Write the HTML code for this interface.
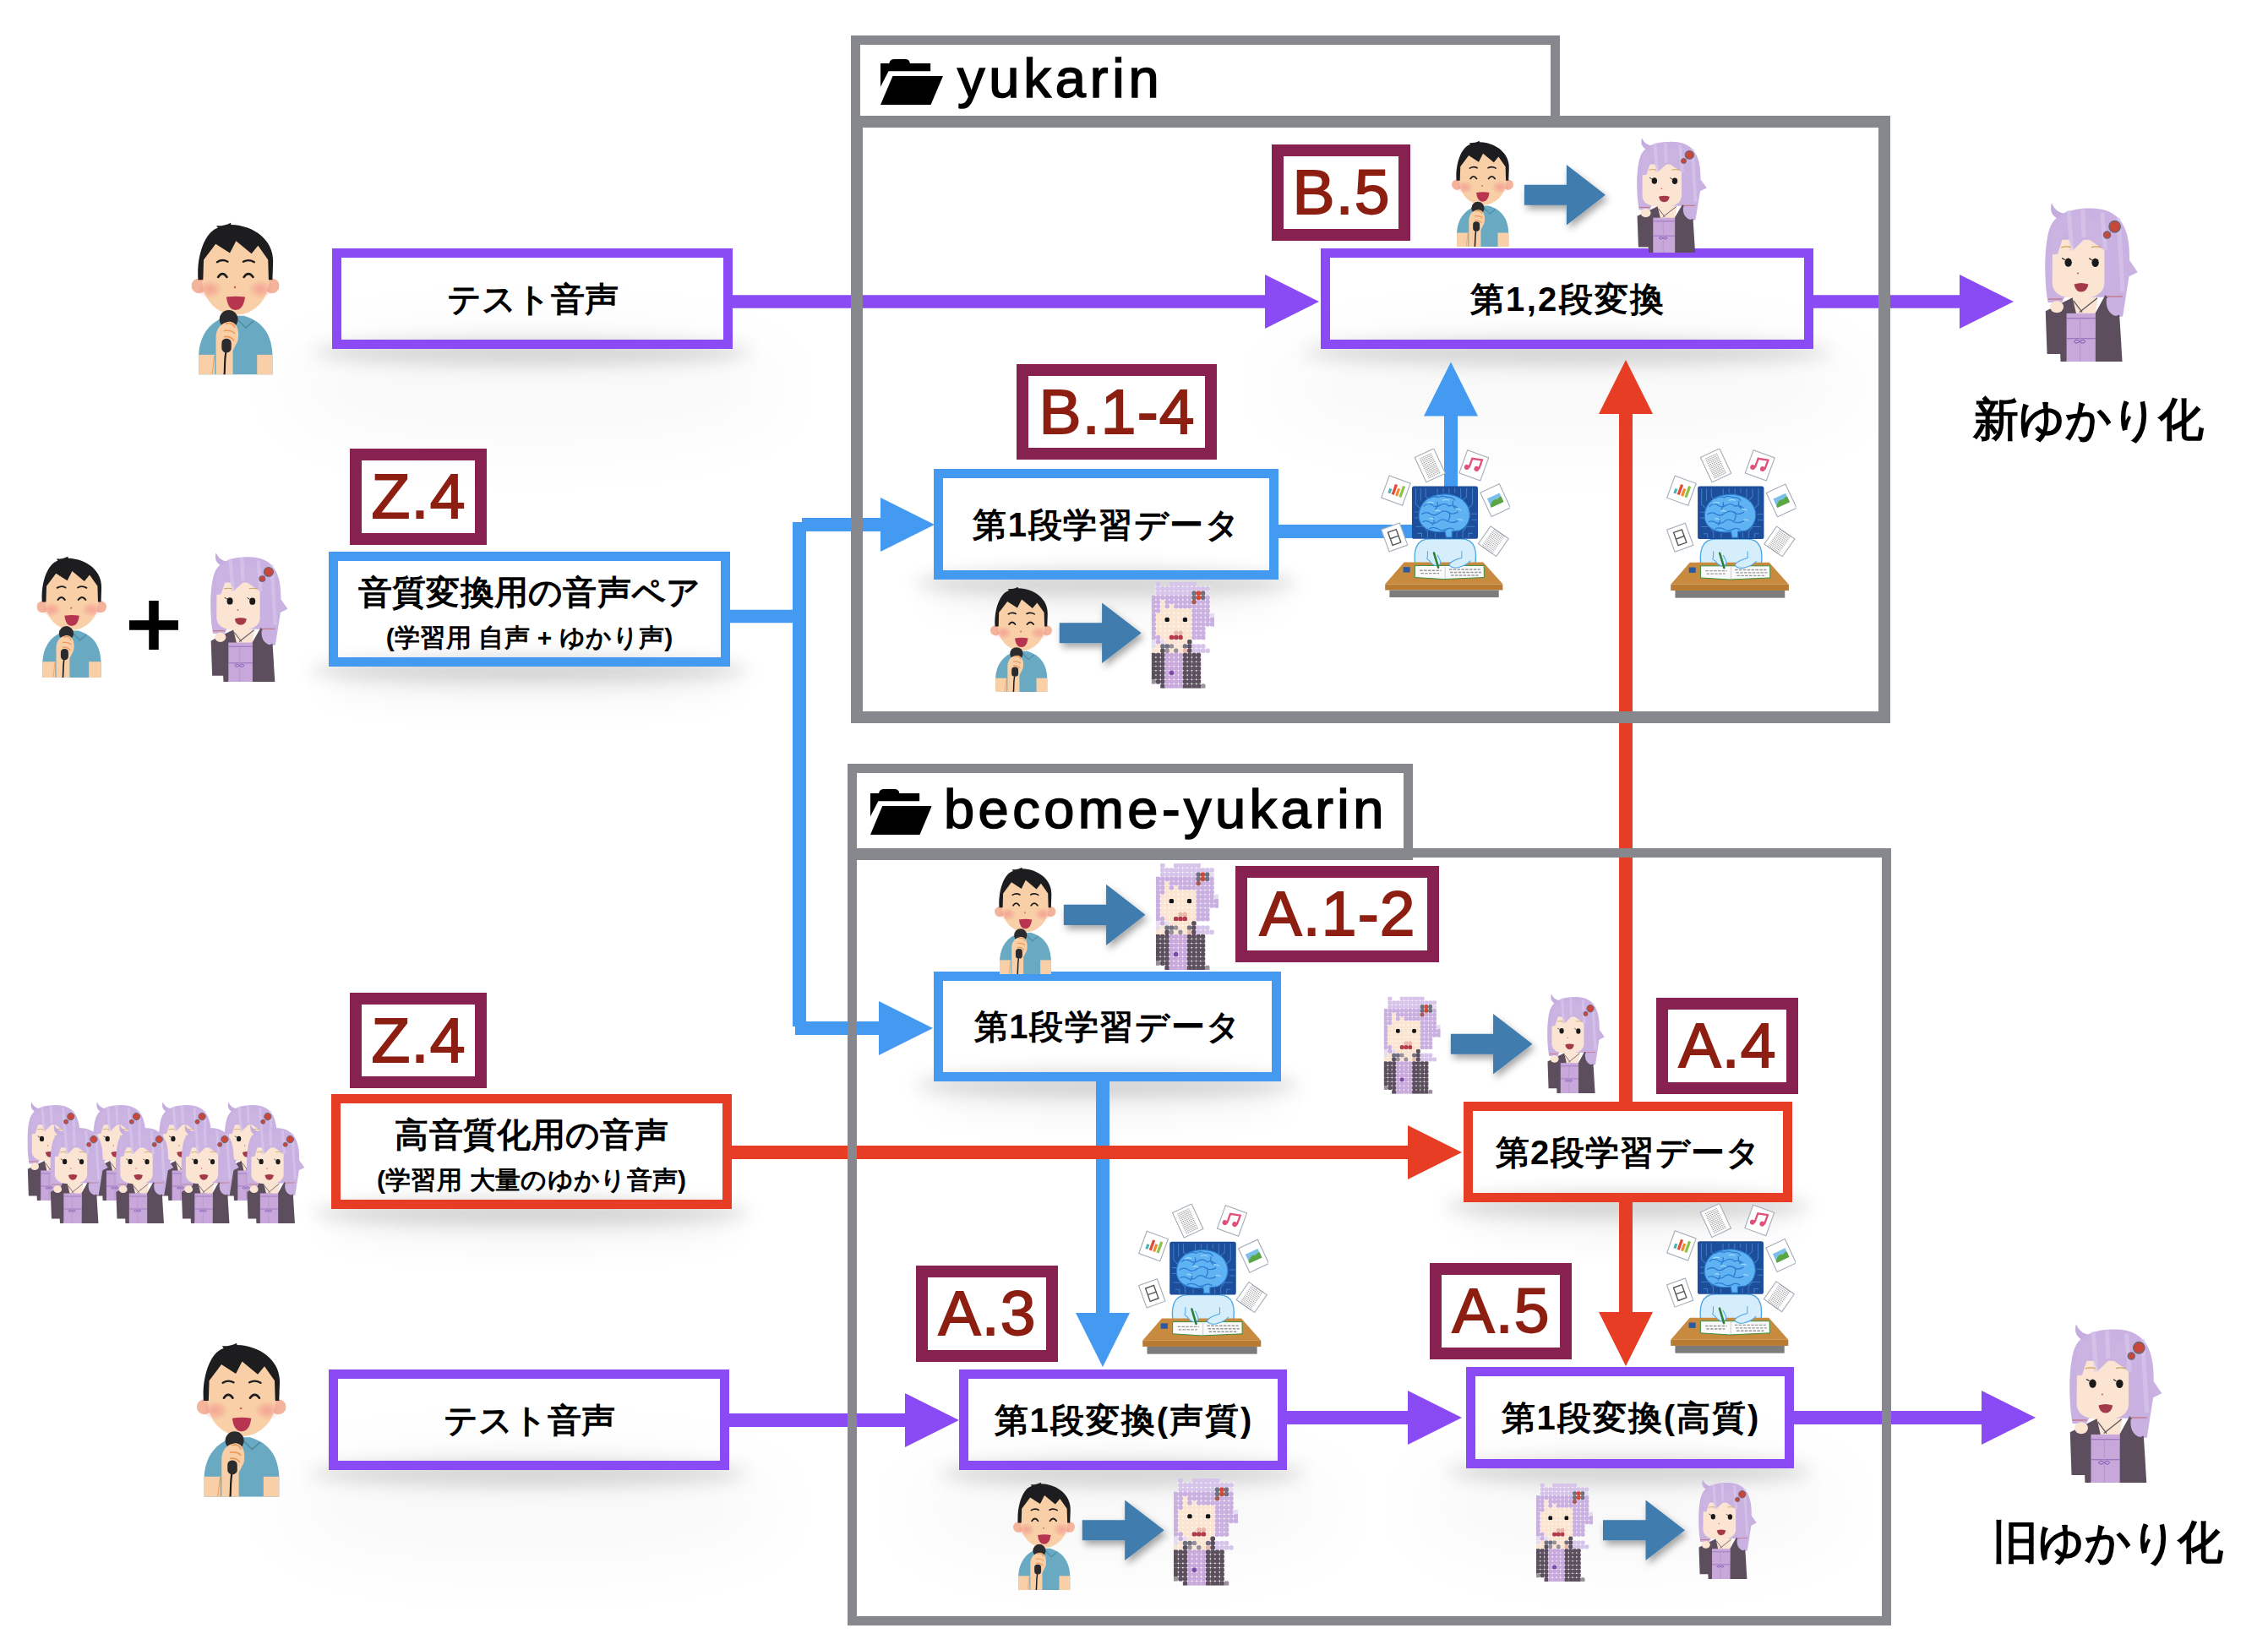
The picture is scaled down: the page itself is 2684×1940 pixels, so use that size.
<!DOCTYPE html>
<html><head><meta charset="utf-8"><title>yukarin</title>
<style>
html,body{margin:0;padding:0;background:#fff;}
body{width:2684px;height:1940px;position:relative;overflow:hidden;font-family:"Liberation Sans",sans-serif;}
.abs{position:absolute;box-sizing:border-box;}
.gbox{position:absolute;box-sizing:border-box;border:solid #87888d;}
.box{position:absolute;box-sizing:border-box;border:11px solid;display:flex;flex-direction:column;align-items:center;justify-content:center;color:#000;font-weight:bold;font-size:40px;line-height:1.15;white-space:nowrap;}
.box small{font-size:30px;line-height:1;display:block;margin-top:16px;margin-bottom:-6px;}
.shadow{position:absolute;border-radius:50%;background:rgba(0,0,0,.14);filter:blur(10px);}
.shadow2{position:absolute;border-radius:50%;background:rgba(0,0,0,.026);filter:blur(40px);}
.shadow3{position:absolute;border-radius:50%;background:rgba(0,0,0,.03);filter:blur(16px);}
.lab{position:absolute;box-sizing:border-box;border:14px solid #87214f;color:#8c1f12;font-size:75px;font-weight:normal;display:flex;align-items:center;justify-content:center;letter-spacing:1.2px;-webkit-text-stroke:1.8px #8c1f12;padding-bottom:2px;padding-left:1.2px;}
.title{position:absolute;font-size:65px;font-weight:normal;line-height:1;color:#000;white-space:nowrap;letter-spacing:3.6px;-webkit-text-stroke:1.6px #000;}
.big{position:absolute;font-size:54px;font-weight:bold;line-height:1;color:#000;white-space:nowrap;}
svg{position:absolute;left:0;top:0;}
</style></head><body>

<div class="shadow" style="left:371px;top:401px;width:518px;height:32px"></div>
<div class="shadow2" style="left:333px;top:393px;width:594px;height:130px"></div>
<div class="shadow" style="left:1541px;top:401px;width:627px;height:32px"></div>
<div class="shadow2" style="left:1503px;top:393px;width:703px;height:130px"></div>
<div class="shadow" style="left:367px;top:1728px;width:518px;height:32px"></div>
<div class="shadow2" style="left:329px;top:1720px;width:594px;height:130px"></div>
<div class="shadow" style="left:1113px;top:1728px;width:432px;height:32px"></div>
<div class="shadow2" style="left:1075px;top:1720px;width:508px;height:130px"></div>
<div class="shadow" style="left:1713px;top:1726px;width:432px;height:32px"></div>
<div class="shadow2" style="left:1675px;top:1718px;width:508px;height:130px"></div>
<div class="shadow" style="left:367px;top:777px;width:519px;height:32px"></div>
<div class="shadow3" style="left:379px;top:783px;width:495px;height:56px"></div>
<div class="shadow" style="left:1083px;top:674px;width:452px;height:32px"></div>
<div class="shadow3" style="left:1095px;top:680px;width:428px;height:56px"></div>
<div class="shadow" style="left:1083px;top:1268px;width:455px;height:32px"></div>
<div class="shadow3" style="left:1095px;top:1274px;width:431px;height:56px"></div>
<div class="shadow" style="left:370px;top:1419px;width:518px;height:32px"></div>
<div class="shadow3" style="left:382px;top:1425px;width:494px;height:56px"></div>
<div class="shadow" style="left:1710px;top:1411px;width:433px;height:32px"></div>
<div class="shadow3" style="left:1722px;top:1417px;width:409px;height:56px"></div>
<svg width="2684" height="1940" viewBox="0 0 2684 1940"><rect x="860" y="349.25" width="640" height="15.5" fill="#8a4af4"/><path d="M1561,357 L1497,325.0 L1497,389.0 Z" fill="#8a4af4"/><rect x="2140" y="349.25" width="182" height="15.5" fill="#8a4af4"/><path d="M2383,357 L2319,325.0 L2319,389.0 Z" fill="#8a4af4"/><rect x="858" y="1673.0" width="216" height="16" fill="#8a4af4"/><path d="M1135,1681 L1071,1649.0 L1071,1713.0 Z" fill="#8a4af4"/><rect x="1518" y="1670.0" width="150" height="16" fill="#8a4af4"/><path d="M1730,1678 L1666,1646.0 L1666,1710.0 Z" fill="#8a4af4"/><rect x="2118" y="1670.0" width="230" height="16" fill="#8a4af4"/><path d="M2409,1678 L2345,1646.0 L2345,1710.0 Z" fill="#8a4af4"/><rect x="860" y="721.75" width="90" height="15.5" fill="#4499f1"/><rect x="938.0" y="618" width="16" height="597" fill="#4499f1"/><rect x="949" y="613.0" width="101" height="16" fill="#4499f1"/><path d="M1106,621 L1042,589.0 L1042,653.0 Z" fill="#4499f1"/><rect x="941" y="1209.0" width="103" height="16" fill="#4499f1"/><path d="M1104,1217 L1040,1185.0 L1040,1249.0 Z" fill="#4499f1"/><rect x="1508" y="621.0" width="192" height="16" fill="#4499f1"/><rect x="1709.0" y="485" width="16" height="155" fill="#4499f1"/><path d="M1717,428.5 L1685.0,492.5 L1749.0,492.5 Z" fill="#4499f1"/><rect x="1297.0" y="1275" width="16" height="285" fill="#4499f1"/><path d="M1305,1618 L1273.0,1554 L1337.0,1554 Z" fill="#4499f1"/><rect x="860" y="1356.0" width="810" height="16" fill="#e63d24"/><path d="M1730,1364 L1666,1332.0 L1666,1396.0 Z" fill="#e63d24"/><rect x="1916.0" y="480" width="16" height="830" fill="#e63d24"/><path d="M1924,426 L1892.0,490 L1956.0,490 Z" fill="#e63d24"/><rect x="1916.0" y="1418" width="16" height="142" fill="#e63d24"/><path d="M1924,1617 L1892.0,1553 L1956.0,1553 Z" fill="#e63d24"/></svg>
<div class="gbox" style="left:1007px;top:42px;width:839px;height:109px;border-width:11px 11px 0 11px"></div>
<div class="gbox" style="left:1007px;top:137px;width:1230px;height:719px;border-width:14px"></div>
<div class="gbox" style="left:1003px;top:904px;width:669px;height:114px;border-width:11px 11px 0 11px"></div>
<div class="gbox" style="left:1003px;top:1004px;width:1235px;height:920px;border-width:11px"></div>
<div class="abs" style="left:1003px;top:1004px;width:669px;height:14px;background:#87888d"></div>
<svg width="2684" height="1940" viewBox="0 0 2684 1940">
<symbol id="folder" viewBox="238 225 419 308" preserveAspectRatio="none">
 <path d="M238,255 L296,255 Q300,226 332,226 L404,226 Q432,226 436,255 L573,255 L573,308 L292,308 L238,412 Z" fill="#000"/>
 <path d="M320,340 L657,340 L575,533 L238,533 Z" fill="#000"/>
</symbol><use href="#folder" x="1042.0" y="69.7" width="74.0" height="54.3" /><use href="#folder" x="1030.0" y="933.7" width="72.7" height="54.2" /></svg>
<div class="title" style="left:1133px;top:60px;letter-spacing:4.85px">yukarin</div>
<div class="title" style="left:1117px;top:925px;letter-spacing:4.45px">become-yukarin</div>
<div class="box" style="left:393px;top:294px;width:474px;height:119px;border-color:#8a4af4;letter-spacing:0px;padding-left:0px">テスト音声</div>
<div class="box" style="left:1563px;top:294px;width:583px;height:119px;border-color:#8a4af4;letter-spacing:2.3px;padding-left:2.3px">第1,2段変換</div>
<div class="box" style="left:389px;top:1621px;width:474px;height:119px;border-color:#8a4af4;letter-spacing:0px;padding-left:0px">テスト音声</div>
<div class="box" style="left:1135px;top:1621px;width:388px;height:119px;border-color:#8a4af4;letter-spacing:2px;padding-left:2px">第1段変換(声質)</div>
<div class="box" style="left:1735px;top:1618px;width:388px;height:120px;border-color:#8a4af4;letter-spacing:2px;padding-left:2px">第1段変換(高質)</div>
<div class="box" style="left:389px;top:653px;width:475px;height:136px;border-color:#4499f1;letter-spacing:0.3px;padding-left:0.3px">音質変換用の音声ペア<small>(学習用 自声 + ゆかり声)</small></div>
<div class="box" style="left:1105px;top:555px;width:408px;height:131px;border-color:#4499f1;letter-spacing:1.6px;padding-left:1.6px">第1段学習データ</div>
<div class="box" style="left:1105px;top:1150px;width:411px;height:130px;border-color:#4499f1;letter-spacing:1.6px;padding-left:1.6px">第1段学習データ</div>
<div class="box" style="left:392px;top:1295px;width:474px;height:136px;border-color:#e63d24;letter-spacing:0.3px;padding-left:0.3px">高音質化用の音声<small>(学習用 大量のゆかり音声)</small></div>
<div class="box" style="left:1732px;top:1304px;width:389px;height:119px;border-color:#e63d24;letter-spacing:1.3px;padding-left:1.3px">第2段学習データ</div>
<div class="lab" style="left:1505px;top:171px;width:164px;height:114px">B.5</div>
<div class="lab" style="left:1203px;top:431px;width:237px;height:113px">B.1-4</div>
<div class="lab" style="left:414px;top:531px;width:162px;height:114px">Z.4</div>
<div class="lab" style="left:414px;top:1175px;width:162px;height:113px">Z.4</div>
<div class="lab" style="left:1462px;top:1025px;width:241px;height:114px">A.1-2</div>
<div class="lab" style="left:1960px;top:1181px;width:168px;height:114px">A.4</div>
<div class="lab" style="left:1084px;top:1498px;width:168px;height:114px">A.3</div>
<div class="lab" style="left:1692px;top:1495px;width:168px;height:114px">A.5</div>
<div class="big" style="left:2335px;top:469px">新ゆかり化</div>
<div class="big" style="left:2358px;top:1798px">旧ゆかり化</div>
<svg width="2684" height="1940" viewBox="0 0 2684 1940"><defs><filter id="ds" x="-20%" y="-20%" width="150%" height="160%"><feDropShadow dx="3" dy="5" stdDeviation="4" flood-color="#000" flood-opacity=".35"/></filter>
<symbol id="man" viewBox="55 60 880 1530" preserveAspectRatio="none">
 <circle cx="130" cy="700" r="75" fill="#f3b49b"/>
 <circle cx="860" cy="700" r="75" fill="#f3b49b"/>
 <ellipse cx="497" cy="640" rx="335" ry="352" fill="#f8cfa6"/>
 <path d="M168,680 L172,430 L300,268 L500,238 L725,288 L828,430 L832,680 Z" fill="#f8cfa6"/>
 <path d="M122,640 C105,380 200,150 320,120 L305,98 C360,100 400,92 448,68 L452,88 C690,95 880,250 872,460 L866,640 L828,640 L822,440 L722,298 L656,378 L502,250 L440,372 L298,280 L178,440 L172,640 Z" fill="#1d1d1f"/>
 <radialGradient id="blush"><stop offset="0" stop-color="#f28a8a" stop-opacity=".6"/><stop offset=".5" stop-color="#f28a8a" stop-opacity=".35"/><stop offset="1" stop-color="#f08c8c" stop-opacity="0"/></radialGradient>
 <ellipse cx="240" cy="735" rx="125" ry="95" fill="url(#blush)"/>
 <ellipse cx="748" cy="735" rx="125" ry="95" fill="url(#blush)"/>
 <path d="M312,462 Q365,428 418,458 M574,458 Q628,428 684,462" stroke="#1d1d1f" stroke-width="20" fill="none" stroke-linecap="round"/>
 <path d="M322,612 Q366,548 410,612 M580,612 Q626,548 672,612" stroke="#1d1d1f" stroke-width="22" fill="none" stroke-linecap="round"/>
 <circle cx="490" cy="715" r="11" fill="#cf5d6c"/>
 <path d="M405,812 Q500,798 592,812 Q575,942 497,942 Q420,942 405,812 Z" fill="#b8354f"/>
 <path d="M128,1392 C138,1200 230,1060 420,1000 L580,1000 C780,1060 858,1200 866,1392 L866,1590 L128,1590 Z" fill="#69a9c2"/>
 <rect x="128" y="1390" width="160" height="200" fill="#f8cfa6"/>
 <rect x="712" y="1390" width="154" height="200" fill="#f8cfa6"/>
 <path d="M520,1040 L600,1120 L680,1050" stroke="#4d8ea5" stroke-width="14" fill="none"/>
 <circle cx="428" cy="1035" r="92" fill="#2b2b2d"/>
 <path d="M300,1590 L300,1220 C300,1120 360,1070 430,1060 C510,1060 540,1150 520,1250 L470,1350 L470,1590 Z" fill="#f8cfa6"/>
 <path d="M395,1080 Q470,1060 490,1120 M380,1150 Q460,1140 490,1180 M380,1210 Q450,1200 480,1250" stroke="#f09a5a" stroke-width="14" fill="none"/>
 <rect x="358" y="1228" width="96" height="140" rx="44" fill="#2b2b2d"/>
 <path d="M400,1365 C385,1450 392,1520 385,1590" stroke="#1d1d1f" stroke-width="18" fill="none"/>
 <path d="M285,1400 L262,1585" stroke="#f09a5a" stroke-width="8" fill="none"/>
</symbol>
<symbol id="girl" viewBox="80 80 860 1465" preserveAspectRatio="none">
 <path d="M142,82 C120,160 150,215 230,240 L290,185 C220,180 170,150 142,82 Z" fill="#c4acdd"/>
 <path d="M96,920 C70,700 80,420 130,300 C190,170 330,130 505,130 C790,130 868,330 862,610 L938,720 L858,760 L835,905 L800,1130 L655,1130 L640,950 L262,950 L238,1000 L108,1000 Z" fill="#c9b1e1"/>
 <path d="M150,420 L630,420 L630,820 C625,925 530,962 390,962 C250,962 152,925 148,820 Z" fill="#fbe4d2"/>
 <path d="M150,330 C190,250 280,200 400,195 L640,250 L640,525 L462,400 L345,512 L268,338 L198,552 L140,560 Z" fill="#cbb3e2"/>
 <path d="M300,150 L330,520 M430,140 L440,400 M610,170 L640,520 M760,220 L800,900" stroke="#d9c9ec" stroke-width="40" opacity=".6" fill="none"/>
 <path d="M230,492 Q275,478 320,490 M510,490 Q555,478 600,492" stroke="#c9a45e" stroke-width="10" fill="none"/>
 <ellipse cx="296" cy="630" rx="33" ry="40" fill="#1a1a1a"/>
 <ellipse cx="546" cy="632" rx="33" ry="40" fill="#1a1a1a"/>
 <path d="M262,605 L240,592 M512,607 L492,594" stroke="#1a1a1a" stroke-width="9" stroke-linecap="round"/>
 <circle cx="385" cy="730" r="8" fill="#c45466"/>
 <path d="M350,832 Q415,808 482,832 Q470,902 415,902 Q362,902 350,832 Z" fill="#a43a49"/>
 <circle cx="726" cy="300" r="52" fill="#c8473b" stroke="#6e6472" stroke-width="12"/>
 <circle cx="655" cy="377" r="32" fill="#c8473b" stroke="#6e6472" stroke-width="10"/>
 <path d="M108,968 L240,968 M650,945 L800,945" stroke="#c06060" stroke-width="8"/>
 <path d="M325,958 L570,950 L548,1105 L300,1105 Z" fill="#fbe4d2"/>
 <path d="M86,1080 L245,1000 L335,955 L370,1105 L280,1545 L225,1545 L222,1475 L100,1475 Z" fill="#5c4e5d"/>
 <path d="M640,930 L770,1120 L796,1545 L540,1545 L545,1100 Z" fill="#5c4e5d"/>
 <rect x="280" y="1100" width="268" height="445" fill="#c8a7da"/>
 <path d="M280,1145 L548,1145 M280,1332 L548,1332" stroke="#8e68b8" stroke-width="8" fill="none"/><path d="M405,1145 L405,1545" stroke="#b594cc" stroke-width="8" fill="none"/><path d="M350,1360 q25,-30 50,0 q-25,30 -50,0 M405,1360 q25,-30 50,0 q-25,30 -50,0" stroke="#6a48a8" stroke-width="7" fill="none"/>
 <path d="M345,985 L425,1090 M565,958 L400,1090" stroke="#5a5560" stroke-width="10"/>
 <ellipse cx="190" cy="1040" rx="62" ry="55" fill="#fbe4d2"/>
 <path d="M650,960 C640,1040 670,1110 740,1125 L790,1100 L800,950 Z" fill="#c9b1e1"/>
</symbol>
<symbol id="darr" viewBox="0 0 96 72" preserveAspectRatio="none">
 <path d="M0,24 L50,24 L50,0 L96,36 L50,72 L50,48 L0,48 Z" fill="#3f7bad"/>
</symbol>
<symbol id="brain" viewBox="60 50 1325 1530" preserveAspectRatio="none"><g transform="translate(215,480) rotate(20)"><rect x="-115.0" y="-120.0" width="230" height="240" fill="#fff" stroke="#a6b0bb" stroke-width="10"/><rect x="-70" y="0" width="28" height="50" fill="#4bb3b3"/><rect x="-30" y="-60" width="28" height="110" fill="#e04a3a"/><rect x="10" y="-30" width="28" height="80" fill="#f08a30"/><rect x="50" y="-70" width="28" height="120" fill="#8bc34a"/></g><g transform="translate(565,222) rotate(-25)"><rect x="-107.5" y="-140.0" width="215" height="280" fill="#fff" stroke="#a6b0bb" stroke-width="10"/><path d="M-70,-105 L70,-105" stroke="#8a8a8a" stroke-width="7" stroke-dasharray="14 6"/><path d="M-70,-87 L70,-87" stroke="#8a8a8a" stroke-width="7" stroke-dasharray="14 6"/><path d="M-70,-69 L70,-69" stroke="#8a8a8a" stroke-width="7" stroke-dasharray="14 6"/><path d="M-70,-51 L70,-51" stroke="#8a8a8a" stroke-width="7" stroke-dasharray="14 6"/><path d="M-70,-33 L70,-33" stroke="#8a8a8a" stroke-width="7" stroke-dasharray="14 6"/><path d="M-70,-15 L70,-15" stroke="#8a8a8a" stroke-width="7" stroke-dasharray="14 6"/><path d="M-70,3 L70,3" stroke="#8a8a8a" stroke-width="7" stroke-dasharray="14 6"/><path d="M-70,21 L70,21" stroke="#8a8a8a" stroke-width="7" stroke-dasharray="14 6"/><path d="M-70,39 L70,39" stroke="#8a8a8a" stroke-width="7" stroke-dasharray="14 6"/><path d="M-70,57 L70,57" stroke="#8a8a8a" stroke-width="7" stroke-dasharray="14 6"/><path d="M-70,75 L70,75" stroke="#8a8a8a" stroke-width="7" stroke-dasharray="14 6"/><path d="M-70,93 L70,93" stroke="#8a8a8a" stroke-width="7" stroke-dasharray="14 6"/><path d="M-70,111 L70,111" stroke="#8a8a8a" stroke-width="7" stroke-dasharray="14 6"/></g><g transform="translate(1015,222) rotate(20)"><rect x="-115.0" y="-125.0" width="230" height="250" fill="#fff" stroke="#a6b0bb" stroke-width="10"/><path d="M-40,40 L-40,-60 L60,-80 L60,20" stroke="#e05078" stroke-width="20" fill="none"/><circle cx="-62" cy="42" r="26" fill="#e05078"/><circle cx="38" cy="24" r="26" fill="#e05078"/></g><g transform="translate(1235,580) rotate(-25)"><rect x="-107.5" y="-135.0" width="215" height="270" fill="#fff" stroke="#a6b0bb" stroke-width="10"/><rect x="-70" y="-50" width="140" height="100" fill="#7cc0ea"/><path d="M-70,30 Q-20,-30 20,0 Q50,-20 70,-10 L70,50 L-70,50 Z" fill="#5aa640"/></g><g transform="translate(200,960) rotate(-20)"><rect x="-100.0" y="-120.0" width="200" height="240" fill="#fff" stroke="#a6b0bb" stroke-width="10"/><rect x="-45" y="-70" width="90" height="140" fill="none" stroke="#555" stroke-width="12"/><path d="M-45,0 L45,0" stroke="#555" stroke-width="12"/></g><g transform="translate(1215,1000) rotate(35)"><rect x="-112.5" y="-110.0" width="225" height="220" fill="#fff" stroke="#a6b0bb" stroke-width="10"/><path d="M-70,-105 L70,-105" stroke="#8a8a8a" stroke-width="7" stroke-dasharray="14 6"/><path d="M-70,-87 L70,-87" stroke="#8a8a8a" stroke-width="7" stroke-dasharray="14 6"/><path d="M-70,-69 L70,-69" stroke="#8a8a8a" stroke-width="7" stroke-dasharray="14 6"/><path d="M-70,-51 L70,-51" stroke="#8a8a8a" stroke-width="7" stroke-dasharray="14 6"/><path d="M-70,-33 L70,-33" stroke="#8a8a8a" stroke-width="7" stroke-dasharray="14 6"/><path d="M-70,-15 L70,-15" stroke="#8a8a8a" stroke-width="7" stroke-dasharray="14 6"/><path d="M-70,3 L70,3" stroke="#8a8a8a" stroke-width="7" stroke-dasharray="14 6"/><path d="M-70,21 L70,21" stroke="#8a8a8a" stroke-width="7" stroke-dasharray="14 6"/><path d="M-70,39 L70,39" stroke="#8a8a8a" stroke-width="7" stroke-dasharray="14 6"/><path d="M-70,57 L70,57" stroke="#8a8a8a" stroke-width="7" stroke-dasharray="14 6"/><path d="M-70,75 L70,75" stroke="#8a8a8a" stroke-width="7" stroke-dasharray="14 6"/><path d="M-70,93 L70,93" stroke="#8a8a8a" stroke-width="7" stroke-dasharray="14 6"/><path d="M-70,111 L70,111" stroke="#8a8a8a" stroke-width="7" stroke-dasharray="14 6"/></g>
 <path d="M420,1285 C385,1100 420,975 565,975 L880,975 C1030,975 1055,1100 1022,1285 Z" fill="#d6eefb" stroke="#4ea8e8" stroke-width="12"/>
 <path d="M300,1215 L1110,1215 L1310,1440 L105,1440 Z" fill="#c88a3e"/>
 <rect x="105" y="1440" width="1205" height="62" fill="#b97a32"/>
 <rect x="150" y="1502" width="1120" height="75" fill="#7c7c7c"/>
 <path d="M410,1250 L1118,1250 L1120,1372 L705,1390 L410,1372 Z" fill="#fafafa" stroke="#2e8a3a" stroke-width="8"/><path d="M720,1260 L720,1385" stroke="#bbb" stroke-width="6"/><path d="M460,1300 L680,1300 M470,1330 L660,1330 M760,1290 L1080,1290 M770,1320 L1090,1320 M780,1350 L1060,1350" stroke="#999" stroke-width="12" stroke-dasharray="30 12"/>
 <rect x="290" y="1265" width="70" height="55" fill="#2a5aa0"/>
 <path d="M540,1100 L540,1160 Q520,1180 560,1200 Q600,1260 650,1250 Q690,1230 660,1180 L640,1140" fill="#d6eefb" stroke="#4ea8e8" stroke-width="9"/>
 <path d="M890,1100 L890,1170 Q780,1200 760,1240 Q780,1280 850,1270 Q940,1250 980,1200" fill="#d6eefb" stroke="#4ea8e8" stroke-width="9"/>
 <path d="M605,1120 L650,1270" stroke="#2e7d3a" stroke-width="22" stroke-linecap="round"/>
 <rect x="380" y="435" width="676" height="540" rx="22" fill="#1d4e9a"/>
 <path d="M420,460 L420,620 L470,670 M470,460 L470,580 M520,460 L520,540 L560,580 M640,460 L640,520 M700,460 L700,500 M760,460 L760,520 M820,460 L820,500 M880,460 L880,560 M940,460 L940,540 L900,580 M1000,460 L1000,620 L950,670 M410,760 L450,760 M410,700 L445,700 M1045,720 L990,720 M1045,780 L995,780 M420,850 L500,850 L540,900 L540,960 M440,920 L480,920 L480,960 M1020,850 L940,850 L900,900 L900,960 M1000,920 L960,920 L960,960 M620,960 L620,920 M840,960 L840,910" stroke="#3f7ccc" stroke-width="9" fill="none" stroke-linecap="round"/>
 <path d="M455,780 C430,650 520,540 650,525 C760,500 900,540 950,640 C1000,740 960,850 870,890 L790,900 L790,960 L730,960 L720,900 C600,920 480,880 455,780 Z" fill="#5fb3f2" stroke="#2c7bd0" stroke-width="10"/>
 <path d="M560,560 q40,-30 90,-10 q40,-25 90,0 q50,-10 80,30 M500,640 q40,-40 90,-10 q30,30 80,0 q50,-30 90,10 q40,-20 90,20 M480,720 q50,-30 90,0 q40,30 90,-10 q50,-40 100,0 q40,20 90,-10 M490,800 q40,-20 80,10 q50,20 90,-20 q40,-30 90,10 q50,20 100,-10 M560,870 q50,-20 100,10 q40,20 90,-10 q30,-10 60,10 M640,600 q10,40 -20,70 M800,590 q-10,50 30,80 M600,760 q20,40 -10,70 M760,700 q20,50 -10,90" stroke="#2c7bd0" stroke-width="11" fill="none" stroke-linecap="round"/>
 <path d="M540,610 q30,-20 60,-5 M700,580 q30,-15 60,0 M620,690 q30,-15 50,5 M830,670 q25,-10 50,10 M560,770 q25,-10 45,5 M850,780 q25,-10 45,5" stroke="#a8dcfb" stroke-width="10" fill="none" stroke-linecap="round"/>
</symbol><symbol id="pix" viewBox="0 0 14 24" preserveAspectRatio="none"><rect x="1" y="0" width="1.02" height="1.02" fill="#d7c4ea"/><rect x="4" y="0" width="1.02" height="1.02" fill="#d7c4ea"/><rect x="5" y="0" width="1.02" height="1.02" fill="#d7c4ea"/><rect x="6" y="0" width="1.02" height="1.02" fill="#d7c4ea"/><rect x="7" y="0" width="1.02" height="1.02" fill="#d7c4ea"/><rect x="8" y="0" width="1.02" height="1.02" fill="#d7c4ea"/><rect x="9" y="0" width="1.02" height="1.02" fill="#d7c4ea"/><rect x="1" y="1" width="1.02" height="1.02" fill="#d7c4ea"/><rect x="2" y="1" width="1.02" height="1.02" fill="#d7c4ea"/><rect x="3" y="1" width="1.02" height="1.02" fill="#d7c4ea"/><rect x="4" y="1" width="1.02" height="1.02" fill="#d7c4ea"/><rect x="5" y="1" width="1.02" height="1.02" fill="#d7c4ea"/><rect x="6" y="1" width="1.02" height="1.02" fill="#d7c4ea"/><rect x="7" y="1" width="1.02" height="1.02" fill="#d7c4ea"/><rect x="8" y="1" width="1.02" height="1.02" fill="#d7c4ea"/><rect x="9" y="1" width="1.02" height="1.02" fill="#d7c4ea"/><rect x="10" y="1" width="1.02" height="1.02" fill="#d7c4ea"/><rect x="11" y="1" width="1.02" height="1.02" fill="#d7c4ea"/><rect x="12" y="1" width="1.02" height="1.02" fill="#d7c4ea"/><rect x="1" y="2" width="1.02" height="1.02" fill="#d7c4ea"/><rect x="2" y="2" width="1.02" height="1.02" fill="#d7c4ea"/><rect x="3" y="2" width="1.02" height="1.02" fill="#d7c4ea"/><rect x="4" y="2" width="1.02" height="1.02" fill="#d7c4ea"/><rect x="5" y="2" width="1.02" height="1.02" fill="#d7c4ea"/><rect x="6" y="2" width="1.02" height="1.02" fill="#d7c4ea"/><rect x="7" y="2" width="1.02" height="1.02" fill="#d7c4ea"/><rect x="8" y="2" width="1.02" height="1.02" fill="#d7c4ea"/><rect x="9" y="2" width="1.02" height="1.02" fill="#707080"/><rect x="10" y="2" width="1.02" height="1.02" fill="#cf4a38"/><rect x="11" y="2" width="1.02" height="1.02" fill="#707080"/><rect x="12" y="2" width="1.02" height="1.02" fill="#e6dcf0"/><rect x="0" y="3" width="1.02" height="1.02" fill="#c9b0e0"/><rect x="1" y="3" width="1.02" height="1.02" fill="#c9b0e0"/><rect x="2" y="3" width="1.02" height="1.02" fill="#c9b0e0"/><rect x="3" y="3" width="1.02" height="1.02" fill="#c9b0e0"/><rect x="4" y="3" width="1.02" height="1.02" fill="#c9b0e0"/><rect x="5" y="3" width="1.02" height="1.02" fill="#c9b0e0"/><rect x="6" y="3" width="1.02" height="1.02" fill="#c9b0e0"/><rect x="7" y="3" width="1.02" height="1.02" fill="#c9b0e0"/><rect x="8" y="3" width="1.02" height="1.02" fill="#c9b0e0"/><rect x="9" y="3" width="1.02" height="1.02" fill="#707080"/><rect x="10" y="3" width="1.02" height="1.02" fill="#cf4a38"/><rect x="11" y="3" width="1.02" height="1.02" fill="#707080"/><rect x="12" y="3" width="1.02" height="1.02" fill="#c9b0e0"/><rect x="0" y="4" width="1.02" height="1.02" fill="#c9b0e0"/><rect x="1" y="4" width="1.02" height="1.02" fill="#c9b0e0"/><rect x="2" y="4" width="1.02" height="1.02" fill="#fbe5d1"/><rect x="3" y="4" width="1.02" height="1.02" fill="#c9b0e0"/><rect x="4" y="4" width="1.02" height="1.02" fill="#c9b0e0"/><rect x="5" y="4" width="1.02" height="1.02" fill="#c9b0e0"/><rect x="6" y="4" width="1.02" height="1.02" fill="#c9b0e0"/><rect x="7" y="4" width="1.02" height="1.02" fill="#c9b0e0"/><rect x="8" y="4" width="1.02" height="1.02" fill="#c9b0e0"/><rect x="9" y="4" width="1.02" height="1.02" fill="#a65a58"/><rect x="10" y="4" width="1.02" height="1.02" fill="#c9b0e0"/><rect x="11" y="4" width="1.02" height="1.02" fill="#c9b0e0"/><rect x="12" y="4" width="1.02" height="1.02" fill="#c9b0e0"/><rect x="0" y="5" width="1.02" height="1.02" fill="#c9b0e0"/><rect x="1" y="5" width="1.02" height="1.02" fill="#c9b0e0"/><rect x="2" y="5" width="1.02" height="1.02" fill="#fbe5d1"/><rect x="3" y="5" width="1.02" height="1.02" fill="#c9b0e0"/><rect x="4" y="5" width="1.02" height="1.02" fill="#fbe5d1"/><rect x="5" y="5" width="1.02" height="1.02" fill="#c9b0e0"/><rect x="6" y="5" width="1.02" height="1.02" fill="#c9b0e0"/><rect x="7" y="5" width="1.02" height="1.02" fill="#c9b0e0"/><rect x="8" y="5" width="1.02" height="1.02" fill="#c9b0e0"/><rect x="9" y="5" width="1.02" height="1.02" fill="#c9b0e0"/><rect x="10" y="5" width="1.02" height="1.02" fill="#c9b0e0"/><rect x="11" y="5" width="1.02" height="1.02" fill="#c9b0e0"/><rect x="12" y="5" width="1.02" height="1.02" fill="#c9b0e0"/><rect x="0" y="6" width="1.02" height="1.02" fill="#c9b0e0"/><rect x="1" y="6" width="1.02" height="1.02" fill="#c9b0e0"/><rect x="2" y="6" width="1.02" height="1.02" fill="#fbe5d1"/><rect x="3" y="6" width="1.02" height="1.02" fill="#fbe5d1"/><rect x="4" y="6" width="1.02" height="1.02" fill="#fbe5d1"/><rect x="5" y="6" width="1.02" height="1.02" fill="#fbe5d1"/><rect x="6" y="6" width="1.02" height="1.02" fill="#fbe5d1"/><rect x="7" y="6" width="1.02" height="1.02" fill="#fbe5d1"/><rect x="8" y="6" width="1.02" height="1.02" fill="#fbe5d1"/><rect x="9" y="6" width="1.02" height="1.02" fill="#c9b0e0"/><rect x="10" y="6" width="1.02" height="1.02" fill="#c9b0e0"/><rect x="11" y="6" width="1.02" height="1.02" fill="#c9b0e0"/><rect x="12" y="6" width="1.02" height="1.02" fill="#c9b0e0"/><rect x="0" y="7" width="1.02" height="1.02" fill="#c9b0e0"/><rect x="1" y="7" width="1.02" height="1.02" fill="#fbe5d1"/><rect x="2" y="7" width="1.02" height="1.02" fill="#fbe5d1"/><rect x="3" y="7" width="1.02" height="1.02" fill="#fbe5d1"/><rect x="4" y="7" width="1.02" height="1.02" fill="#fbe5d1"/><rect x="5" y="7" width="1.02" height="1.02" fill="#fbe5d1"/><rect x="6" y="7" width="1.02" height="1.02" fill="#fbe5d1"/><rect x="7" y="7" width="1.02" height="1.02" fill="#fbe5d1"/><rect x="8" y="7" width="1.02" height="1.02" fill="#fbe5d1"/><rect x="9" y="7" width="1.02" height="1.02" fill="#c9b0e0"/><rect x="10" y="7" width="1.02" height="1.02" fill="#c9b0e0"/><rect x="11" y="7" width="1.02" height="1.02" fill="#c9b0e0"/><rect x="12" y="7" width="1.02" height="1.02" fill="#c9b0e0"/><rect x="13" y="7" width="1.02" height="1.02" fill="#e6dcf0"/><rect x="0" y="8" width="1.02" height="1.02" fill="#c9b0e0"/><rect x="1" y="8" width="1.02" height="1.02" fill="#fbe5d1"/><rect x="2" y="8" width="1.02" height="1.02" fill="#fbe5d1"/><rect x="3" y="8" width="1.02" height="1.02" fill="#141414"/><rect x="4" y="8" width="1.02" height="1.02" fill="#fbe5d1"/><rect x="5" y="8" width="1.02" height="1.02" fill="#fbe5d1"/><rect x="6" y="8" width="1.02" height="1.02" fill="#fbe5d1"/><rect x="7" y="8" width="1.02" height="1.02" fill="#141414"/><rect x="8" y="8" width="1.02" height="1.02" fill="#fbe5d1"/><rect x="9" y="8" width="1.02" height="1.02" fill="#c9b0e0"/><rect x="10" y="8" width="1.02" height="1.02" fill="#c9b0e0"/><rect x="11" y="8" width="1.02" height="1.02" fill="#c9b0e0"/><rect x="12" y="8" width="1.02" height="1.02" fill="#c9b0e0"/><rect x="13" y="8" width="1.02" height="1.02" fill="#c9b0e0"/><rect x="0" y="9" width="1.02" height="1.02" fill="#c9b0e0"/><rect x="1" y="9" width="1.02" height="1.02" fill="#fbe5d1"/><rect x="2" y="9" width="1.02" height="1.02" fill="#fbe5d1"/><rect x="3" y="9" width="1.02" height="1.02" fill="#fbe5d1"/><rect x="4" y="9" width="1.02" height="1.02" fill="#fbe5d1"/><rect x="5" y="9" width="1.02" height="1.02" fill="#fbe5d1"/><rect x="6" y="9" width="1.02" height="1.02" fill="#fbe5d1"/><rect x="7" y="9" width="1.02" height="1.02" fill="#fbe5d1"/><rect x="8" y="9" width="1.02" height="1.02" fill="#fbe5d1"/><rect x="9" y="9" width="1.02" height="1.02" fill="#c9b0e0"/><rect x="10" y="9" width="1.02" height="1.02" fill="#c9b0e0"/><rect x="11" y="9" width="1.02" height="1.02" fill="#c9b0e0"/><rect x="12" y="9" width="1.02" height="1.02" fill="#c9b0e0"/><rect x="13" y="9" width="1.02" height="1.02" fill="#c9b0e0"/><rect x="0" y="10" width="1.02" height="1.02" fill="#c9b0e0"/><rect x="1" y="10" width="1.02" height="1.02" fill="#fbe5d1"/><rect x="2" y="10" width="1.02" height="1.02" fill="#fbe5d1"/><rect x="3" y="10" width="1.02" height="1.02" fill="#fbe5d1"/><rect x="4" y="10" width="1.02" height="1.02" fill="#fbe5d1"/><rect x="5" y="10" width="1.02" height="1.02" fill="#fbe5d1"/><rect x="6" y="10" width="1.02" height="1.02" fill="#fbe5d1"/><rect x="7" y="10" width="1.02" height="1.02" fill="#fbe5d1"/><rect x="8" y="10" width="1.02" height="1.02" fill="#fbe5d1"/><rect x="9" y="10" width="1.02" height="1.02" fill="#c9b0e0"/><rect x="10" y="10" width="1.02" height="1.02" fill="#c9b0e0"/><rect x="11" y="10" width="1.02" height="1.02" fill="#c9b0e0"/><rect x="0" y="11" width="1.02" height="1.02" fill="#c9b0e0"/><rect x="1" y="11" width="1.02" height="1.02" fill="#fbe5d1"/><rect x="2" y="11" width="1.02" height="1.02" fill="#fbe5d1"/><rect x="3" y="11" width="1.02" height="1.02" fill="#fbe5d1"/><rect x="4" y="11" width="1.02" height="1.02" fill="#fbe5d1"/><rect x="5" y="11" width="1.02" height="1.02" fill="#e9b8a8"/><rect x="6" y="11" width="1.02" height="1.02" fill="#e9b8a8"/><rect x="7" y="11" width="1.02" height="1.02" fill="#fbe5d1"/><rect x="8" y="11" width="1.02" height="1.02" fill="#fbe5d1"/><rect x="9" y="11" width="1.02" height="1.02" fill="#c9b0e0"/><rect x="10" y="11" width="1.02" height="1.02" fill="#c9b0e0"/><rect x="11" y="11" width="1.02" height="1.02" fill="#c9b0e0"/><rect x="0" y="12" width="1.02" height="1.02" fill="#c9b0e0"/><rect x="1" y="12" width="1.02" height="1.02" fill="#c9b0e0"/><rect x="2" y="12" width="1.02" height="1.02" fill="#fbe5d1"/><rect x="3" y="12" width="1.02" height="1.02" fill="#fbe5d1"/><rect x="4" y="12" width="1.02" height="1.02" fill="#b33a48"/><rect x="5" y="12" width="1.02" height="1.02" fill="#b33a48"/><rect x="6" y="12" width="1.02" height="1.02" fill="#b33a48"/><rect x="7" y="12" width="1.02" height="1.02" fill="#fbe5d1"/><rect x="8" y="12" width="1.02" height="1.02" fill="#fbe5d1"/><rect x="9" y="12" width="1.02" height="1.02" fill="#c9b0e0"/><rect x="10" y="12" width="1.02" height="1.02" fill="#c9b0e0"/><rect x="11" y="12" width="1.02" height="1.02" fill="#c9b0e0"/><rect x="0" y="13" width="1.02" height="1.02" fill="#e6dcf0"/><rect x="1" y="13" width="1.02" height="1.02" fill="#c9b0e0"/><rect x="2" y="13" width="1.02" height="1.02" fill="#e6dcf0"/><rect x="3" y="13" width="1.02" height="1.02" fill="#fbe5d1"/><rect x="4" y="13" width="1.02" height="1.02" fill="#fbe5d1"/><rect x="5" y="13" width="1.02" height="1.02" fill="#fbe5d1"/><rect x="6" y="13" width="1.02" height="1.02" fill="#fbe5d1"/><rect x="7" y="13" width="1.02" height="1.02" fill="#fbe5d1"/><rect x="8" y="13" width="1.02" height="1.02" fill="#5b4e5d"/><rect x="0" y="14" width="1.02" height="1.02" fill="#e6dcf0"/><rect x="1" y="14" width="1.02" height="1.02" fill="#fbe5d1"/><rect x="2" y="14" width="1.02" height="1.02" fill="#707080"/><rect x="3" y="14" width="1.02" height="1.02" fill="#707080"/><rect x="4" y="14" width="1.02" height="1.02" fill="#9a909c"/><rect x="5" y="14" width="1.02" height="1.02" fill="#fbe5d1"/><rect x="6" y="14" width="1.02" height="1.02" fill="#fbe5d1"/><rect x="7" y="14" width="1.02" height="1.02" fill="#707080"/><rect x="8" y="14" width="1.02" height="1.02" fill="#5b4e5d"/><rect x="9" y="14" width="1.02" height="1.02" fill="#d7c4ea"/><rect x="10" y="14" width="1.02" height="1.02" fill="#d7c4ea"/><rect x="11" y="14" width="1.02" height="1.02" fill="#d7c4ea"/><rect x="0" y="15" width="1.02" height="1.02" fill="#fbe5d1"/><rect x="1" y="15" width="1.02" height="1.02" fill="#fbe5d1"/><rect x="2" y="15" width="1.02" height="1.02" fill="#5b4e5d"/><rect x="3" y="15" width="1.02" height="1.02" fill="#9a909c"/><rect x="4" y="15" width="1.02" height="1.02" fill="#fbe5d1"/><rect x="5" y="15" width="1.02" height="1.02" fill="#9a909c"/><rect x="6" y="15" width="1.02" height="1.02" fill="#fbe5d1"/><rect x="7" y="15" width="1.02" height="1.02" fill="#e9b8a8"/><rect x="8" y="15" width="1.02" height="1.02" fill="#5b4e5d"/><rect x="9" y="15" width="1.02" height="1.02" fill="#d7c4ea"/><rect x="10" y="15" width="1.02" height="1.02" fill="#d7c4ea"/><rect x="11" y="15" width="1.02" height="1.02" fill="#d7c4ea"/><rect x="12" y="15" width="1.02" height="1.02" fill="#d7c4ea"/><rect x="0" y="16" width="1.02" height="1.02" fill="#5b4e5d"/><rect x="1" y="16" width="1.02" height="1.02" fill="#5b4e5d"/><rect x="2" y="16" width="1.02" height="1.02" fill="#5b4e5d"/><rect x="3" y="16" width="1.02" height="1.02" fill="#c9a9db"/><rect x="4" y="16" width="1.02" height="1.02" fill="#c9a9db"/><rect x="5" y="16" width="1.02" height="1.02" fill="#c9a9db"/><rect x="6" y="16" width="1.02" height="1.02" fill="#c9a9db"/><rect x="7" y="16" width="1.02" height="1.02" fill="#5b4e5d"/><rect x="8" y="16" width="1.02" height="1.02" fill="#5b4e5d"/><rect x="9" y="16" width="1.02" height="1.02" fill="#5b4e5d"/><rect x="10" y="16" width="1.02" height="1.02" fill="#5b4e5d"/><rect x="0" y="17" width="1.02" height="1.02" fill="#5b4e5d"/><rect x="1" y="17" width="1.02" height="1.02" fill="#5b4e5d"/><rect x="2" y="17" width="1.02" height="1.02" fill="#5b4e5d"/><rect x="3" y="17" width="1.02" height="1.02" fill="#c9a9db"/><rect x="4" y="17" width="1.02" height="1.02" fill="#c9a9db"/><rect x="5" y="17" width="1.02" height="1.02" fill="#c9a9db"/><rect x="6" y="17" width="1.02" height="1.02" fill="#c9a9db"/><rect x="7" y="17" width="1.02" height="1.02" fill="#5b4e5d"/><rect x="8" y="17" width="1.02" height="1.02" fill="#5b4e5d"/><rect x="9" y="17" width="1.02" height="1.02" fill="#5b4e5d"/><rect x="10" y="17" width="1.02" height="1.02" fill="#5b4e5d"/><rect x="0" y="18" width="1.02" height="1.02" fill="#5b4e5d"/><rect x="1" y="18" width="1.02" height="1.02" fill="#5b4e5d"/><rect x="2" y="18" width="1.02" height="1.02" fill="#5b4e5d"/><rect x="3" y="18" width="1.02" height="1.02" fill="#c9a9db"/><rect x="4" y="18" width="1.02" height="1.02" fill="#c9a9db"/><rect x="5" y="18" width="1.02" height="1.02" fill="#c9a9db"/><rect x="6" y="18" width="1.02" height="1.02" fill="#c9a9db"/><rect x="7" y="18" width="1.02" height="1.02" fill="#5b4e5d"/><rect x="8" y="18" width="1.02" height="1.02" fill="#5b4e5d"/><rect x="9" y="18" width="1.02" height="1.02" fill="#5b4e5d"/><rect x="10" y="18" width="1.02" height="1.02" fill="#5b4e5d"/><rect x="0" y="19" width="1.02" height="1.02" fill="#5b4e5d"/><rect x="1" y="19" width="1.02" height="1.02" fill="#5b4e5d"/><rect x="2" y="19" width="1.02" height="1.02" fill="#5b4e5d"/><rect x="3" y="19" width="1.02" height="1.02" fill="#c9a9db"/><rect x="4" y="19" width="1.02" height="1.02" fill="#c9a9db"/><rect x="5" y="19" width="1.02" height="1.02" fill="#c9a9db"/><rect x="6" y="19" width="1.02" height="1.02" fill="#c9a9db"/><rect x="7" y="19" width="1.02" height="1.02" fill="#5b4e5d"/><rect x="8" y="19" width="1.02" height="1.02" fill="#5b4e5d"/><rect x="9" y="19" width="1.02" height="1.02" fill="#5b4e5d"/><rect x="10" y="19" width="1.02" height="1.02" fill="#5b4e5d"/><rect x="0" y="20" width="1.02" height="1.02" fill="#5b4e5d"/><rect x="1" y="20" width="1.02" height="1.02" fill="#5b4e5d"/><rect x="2" y="20" width="1.02" height="1.02" fill="#5b4e5d"/><rect x="3" y="20" width="1.02" height="1.02" fill="#c9a9db"/><rect x="4" y="20" width="1.02" height="1.02" fill="#7a4aa8"/><rect x="5" y="20" width="1.02" height="1.02" fill="#c9a9db"/><rect x="6" y="20" width="1.02" height="1.02" fill="#c9a9db"/><rect x="7" y="20" width="1.02" height="1.02" fill="#5b4e5d"/><rect x="8" y="20" width="1.02" height="1.02" fill="#5b4e5d"/><rect x="9" y="20" width="1.02" height="1.02" fill="#5b4e5d"/><rect x="10" y="20" width="1.02" height="1.02" fill="#5b4e5d"/><rect x="0" y="21" width="1.02" height="1.02" fill="#5b4e5d"/><rect x="1" y="21" width="1.02" height="1.02" fill="#5b4e5d"/><rect x="2" y="21" width="1.02" height="1.02" fill="#5b4e5d"/><rect x="3" y="21" width="1.02" height="1.02" fill="#c9a9db"/><rect x="4" y="21" width="1.02" height="1.02" fill="#c9a9db"/><rect x="5" y="21" width="1.02" height="1.02" fill="#c9a9db"/><rect x="6" y="21" width="1.02" height="1.02" fill="#c9a9db"/><rect x="7" y="21" width="1.02" height="1.02" fill="#5b4e5d"/><rect x="8" y="21" width="1.02" height="1.02" fill="#5b4e5d"/><rect x="9" y="21" width="1.02" height="1.02" fill="#5b4e5d"/><rect x="10" y="21" width="1.02" height="1.02" fill="#5b4e5d"/><rect x="0" y="22" width="1.02" height="1.02" fill="#9a909c"/><rect x="1" y="22" width="1.02" height="1.02" fill="#5b4e5d"/><rect x="2" y="22" width="1.02" height="1.02" fill="#5b4e5d"/><rect x="3" y="22" width="1.02" height="1.02" fill="#c9a9db"/><rect x="4" y="22" width="1.02" height="1.02" fill="#c9a9db"/><rect x="5" y="22" width="1.02" height="1.02" fill="#c9a9db"/><rect x="6" y="22" width="1.02" height="1.02" fill="#c9a9db"/><rect x="7" y="22" width="1.02" height="1.02" fill="#5b4e5d"/><rect x="8" y="22" width="1.02" height="1.02" fill="#5b4e5d"/><rect x="9" y="22" width="1.02" height="1.02" fill="#5b4e5d"/><rect x="10" y="22" width="1.02" height="1.02" fill="#5b4e5d"/><rect x="2" y="23" width="1.02" height="1.02" fill="#5b4e5d"/><rect x="3" y="23" width="1.02" height="1.02" fill="#c9a9db"/><rect x="4" y="23" width="1.02" height="1.02" fill="#c9a9db"/><rect x="5" y="23" width="1.02" height="1.02" fill="#c9a9db"/><rect x="6" y="23" width="1.02" height="1.02" fill="#c9a9db"/><rect x="7" y="23" width="1.02" height="1.02" fill="#5b4e5d"/><rect x="8" y="23" width="1.02" height="1.02" fill="#5b4e5d"/><rect x="9" y="23" width="1.02" height="1.02" fill="#5b4e5d"/><rect x="10" y="23" width="1.02" height="1.02" fill="#5b4e5d"/><rect x="11" y="23" width="1.02" height="1.02" fill="#9a909c"/><g fill="#fff" opacity=".95"><circle cx="1" cy="1" r=".16"/><circle cx="2" cy="1" r=".16"/><circle cx="3" cy="1" r=".16"/><circle cx="4" cy="1" r=".16"/><circle cx="5" cy="1" r=".16"/><circle cx="6" cy="1" r=".16"/><circle cx="7" cy="1" r=".16"/><circle cx="8" cy="1" r=".16"/><circle cx="9" cy="1" r=".16"/><circle cx="10" cy="1" r=".16"/><circle cx="11" cy="1" r=".16"/><circle cx="12" cy="1" r=".16"/><circle cx="13" cy="1" r=".16"/><circle cx="1" cy="2" r=".16"/><circle cx="2" cy="2" r=".16"/><circle cx="3" cy="2" r=".16"/><circle cx="4" cy="2" r=".16"/><circle cx="5" cy="2" r=".16"/><circle cx="6" cy="2" r=".16"/><circle cx="7" cy="2" r=".16"/><circle cx="8" cy="2" r=".16"/><circle cx="9" cy="2" r=".16"/><circle cx="10" cy="2" r=".16"/><circle cx="11" cy="2" r=".16"/><circle cx="12" cy="2" r=".16"/><circle cx="13" cy="2" r=".16"/><circle cx="1" cy="3" r=".16"/><circle cx="2" cy="3" r=".16"/><circle cx="3" cy="3" r=".16"/><circle cx="4" cy="3" r=".16"/><circle cx="5" cy="3" r=".16"/><circle cx="6" cy="3" r=".16"/><circle cx="7" cy="3" r=".16"/><circle cx="8" cy="3" r=".16"/><circle cx="9" cy="3" r=".16"/><circle cx="10" cy="3" r=".16"/><circle cx="11" cy="3" r=".16"/><circle cx="12" cy="3" r=".16"/><circle cx="13" cy="3" r=".16"/><circle cx="1" cy="4" r=".16"/><circle cx="2" cy="4" r=".16"/><circle cx="3" cy="4" r=".16"/><circle cx="4" cy="4" r=".16"/><circle cx="5" cy="4" r=".16"/><circle cx="6" cy="4" r=".16"/><circle cx="7" cy="4" r=".16"/><circle cx="8" cy="4" r=".16"/><circle cx="9" cy="4" r=".16"/><circle cx="10" cy="4" r=".16"/><circle cx="11" cy="4" r=".16"/><circle cx="12" cy="4" r=".16"/><circle cx="13" cy="4" r=".16"/><circle cx="1" cy="5" r=".16"/><circle cx="2" cy="5" r=".16"/><circle cx="3" cy="5" r=".16"/><circle cx="4" cy="5" r=".16"/><circle cx="5" cy="5" r=".16"/><circle cx="6" cy="5" r=".16"/><circle cx="7" cy="5" r=".16"/><circle cx="8" cy="5" r=".16"/><circle cx="9" cy="5" r=".16"/><circle cx="10" cy="5" r=".16"/><circle cx="11" cy="5" r=".16"/><circle cx="12" cy="5" r=".16"/><circle cx="13" cy="5" r=".16"/><circle cx="1" cy="6" r=".16"/><circle cx="2" cy="6" r=".16"/><circle cx="3" cy="6" r=".16"/><circle cx="4" cy="6" r=".16"/><circle cx="5" cy="6" r=".16"/><circle cx="6" cy="6" r=".16"/><circle cx="7" cy="6" r=".16"/><circle cx="8" cy="6" r=".16"/><circle cx="9" cy="6" r=".16"/><circle cx="10" cy="6" r=".16"/><circle cx="11" cy="6" r=".16"/><circle cx="12" cy="6" r=".16"/><circle cx="13" cy="6" r=".16"/><circle cx="1" cy="7" r=".16"/><circle cx="2" cy="7" r=".16"/><circle cx="3" cy="7" r=".16"/><circle cx="4" cy="7" r=".16"/><circle cx="5" cy="7" r=".16"/><circle cx="6" cy="7" r=".16"/><circle cx="7" cy="7" r=".16"/><circle cx="8" cy="7" r=".16"/><circle cx="9" cy="7" r=".16"/><circle cx="10" cy="7" r=".16"/><circle cx="11" cy="7" r=".16"/><circle cx="12" cy="7" r=".16"/><circle cx="13" cy="7" r=".16"/><circle cx="1" cy="8" r=".16"/><circle cx="2" cy="8" r=".16"/><circle cx="3" cy="8" r=".16"/><circle cx="4" cy="8" r=".16"/><circle cx="5" cy="8" r=".16"/><circle cx="6" cy="8" r=".16"/><circle cx="7" cy="8" r=".16"/><circle cx="8" cy="8" r=".16"/><circle cx="9" cy="8" r=".16"/><circle cx="10" cy="8" r=".16"/><circle cx="11" cy="8" r=".16"/><circle cx="12" cy="8" r=".16"/><circle cx="13" cy="8" r=".16"/><circle cx="1" cy="9" r=".16"/><circle cx="2" cy="9" r=".16"/><circle cx="3" cy="9" r=".16"/><circle cx="4" cy="9" r=".16"/><circle cx="5" cy="9" r=".16"/><circle cx="6" cy="9" r=".16"/><circle cx="7" cy="9" r=".16"/><circle cx="8" cy="9" r=".16"/><circle cx="9" cy="9" r=".16"/><circle cx="10" cy="9" r=".16"/><circle cx="11" cy="9" r=".16"/><circle cx="12" cy="9" r=".16"/><circle cx="13" cy="9" r=".16"/><circle cx="1" cy="10" r=".16"/><circle cx="2" cy="10" r=".16"/><circle cx="3" cy="10" r=".16"/><circle cx="4" cy="10" r=".16"/><circle cx="5" cy="10" r=".16"/><circle cx="6" cy="10" r=".16"/><circle cx="7" cy="10" r=".16"/><circle cx="8" cy="10" r=".16"/><circle cx="9" cy="10" r=".16"/><circle cx="10" cy="10" r=".16"/><circle cx="11" cy="10" r=".16"/><circle cx="12" cy="10" r=".16"/><circle cx="13" cy="10" r=".16"/><circle cx="1" cy="11" r=".16"/><circle cx="2" cy="11" r=".16"/><circle cx="3" cy="11" r=".16"/><circle cx="4" cy="11" r=".16"/><circle cx="5" cy="11" r=".16"/><circle cx="6" cy="11" r=".16"/><circle cx="7" cy="11" r=".16"/><circle cx="8" cy="11" r=".16"/><circle cx="9" cy="11" r=".16"/><circle cx="10" cy="11" r=".16"/><circle cx="11" cy="11" r=".16"/><circle cx="12" cy="11" r=".16"/><circle cx="13" cy="11" r=".16"/><circle cx="1" cy="12" r=".16"/><circle cx="2" cy="12" r=".16"/><circle cx="3" cy="12" r=".16"/><circle cx="4" cy="12" r=".16"/><circle cx="5" cy="12" r=".16"/><circle cx="6" cy="12" r=".16"/><circle cx="7" cy="12" r=".16"/><circle cx="8" cy="12" r=".16"/><circle cx="9" cy="12" r=".16"/><circle cx="10" cy="12" r=".16"/><circle cx="11" cy="12" r=".16"/><circle cx="12" cy="12" r=".16"/><circle cx="13" cy="12" r=".16"/><circle cx="1" cy="13" r=".16"/><circle cx="2" cy="13" r=".16"/><circle cx="3" cy="13" r=".16"/><circle cx="4" cy="13" r=".16"/><circle cx="5" cy="13" r=".16"/><circle cx="6" cy="13" r=".16"/><circle cx="7" cy="13" r=".16"/><circle cx="8" cy="13" r=".16"/><circle cx="9" cy="13" r=".16"/><circle cx="10" cy="13" r=".16"/><circle cx="11" cy="13" r=".16"/><circle cx="12" cy="13" r=".16"/><circle cx="13" cy="13" r=".16"/><circle cx="1" cy="14" r=".16"/><circle cx="2" cy="14" r=".16"/><circle cx="3" cy="14" r=".16"/><circle cx="4" cy="14" r=".16"/><circle cx="5" cy="14" r=".16"/><circle cx="6" cy="14" r=".16"/><circle cx="7" cy="14" r=".16"/><circle cx="8" cy="14" r=".16"/><circle cx="9" cy="14" r=".16"/><circle cx="10" cy="14" r=".16"/><circle cx="11" cy="14" r=".16"/><circle cx="12" cy="14" r=".16"/><circle cx="13" cy="14" r=".16"/><circle cx="1" cy="15" r=".16"/><circle cx="2" cy="15" r=".16"/><circle cx="3" cy="15" r=".16"/><circle cx="4" cy="15" r=".16"/><circle cx="5" cy="15" r=".16"/><circle cx="6" cy="15" r=".16"/><circle cx="7" cy="15" r=".16"/><circle cx="8" cy="15" r=".16"/><circle cx="9" cy="15" r=".16"/><circle cx="10" cy="15" r=".16"/><circle cx="11" cy="15" r=".16"/><circle cx="12" cy="15" r=".16"/><circle cx="13" cy="15" r=".16"/><circle cx="1" cy="16" r=".16"/><circle cx="2" cy="16" r=".16"/><circle cx="3" cy="16" r=".16"/><circle cx="4" cy="16" r=".16"/><circle cx="5" cy="16" r=".16"/><circle cx="6" cy="16" r=".16"/><circle cx="7" cy="16" r=".16"/><circle cx="8" cy="16" r=".16"/><circle cx="9" cy="16" r=".16"/><circle cx="10" cy="16" r=".16"/><circle cx="11" cy="16" r=".16"/><circle cx="12" cy="16" r=".16"/><circle cx="13" cy="16" r=".16"/><circle cx="1" cy="17" r=".16"/><circle cx="2" cy="17" r=".16"/><circle cx="3" cy="17" r=".16"/><circle cx="4" cy="17" r=".16"/><circle cx="5" cy="17" r=".16"/><circle cx="6" cy="17" r=".16"/><circle cx="7" cy="17" r=".16"/><circle cx="8" cy="17" r=".16"/><circle cx="9" cy="17" r=".16"/><circle cx="10" cy="17" r=".16"/><circle cx="11" cy="17" r=".16"/><circle cx="12" cy="17" r=".16"/><circle cx="13" cy="17" r=".16"/><circle cx="1" cy="18" r=".16"/><circle cx="2" cy="18" r=".16"/><circle cx="3" cy="18" r=".16"/><circle cx="4" cy="18" r=".16"/><circle cx="5" cy="18" r=".16"/><circle cx="6" cy="18" r=".16"/><circle cx="7" cy="18" r=".16"/><circle cx="8" cy="18" r=".16"/><circle cx="9" cy="18" r=".16"/><circle cx="10" cy="18" r=".16"/><circle cx="11" cy="18" r=".16"/><circle cx="12" cy="18" r=".16"/><circle cx="13" cy="18" r=".16"/><circle cx="1" cy="19" r=".16"/><circle cx="2" cy="19" r=".16"/><circle cx="3" cy="19" r=".16"/><circle cx="4" cy="19" r=".16"/><circle cx="5" cy="19" r=".16"/><circle cx="6" cy="19" r=".16"/><circle cx="7" cy="19" r=".16"/><circle cx="8" cy="19" r=".16"/><circle cx="9" cy="19" r=".16"/><circle cx="10" cy="19" r=".16"/><circle cx="11" cy="19" r=".16"/><circle cx="12" cy="19" r=".16"/><circle cx="13" cy="19" r=".16"/><circle cx="1" cy="20" r=".16"/><circle cx="2" cy="20" r=".16"/><circle cx="3" cy="20" r=".16"/><circle cx="4" cy="20" r=".16"/><circle cx="5" cy="20" r=".16"/><circle cx="6" cy="20" r=".16"/><circle cx="7" cy="20" r=".16"/><circle cx="8" cy="20" r=".16"/><circle cx="9" cy="20" r=".16"/><circle cx="10" cy="20" r=".16"/><circle cx="11" cy="20" r=".16"/><circle cx="12" cy="20" r=".16"/><circle cx="13" cy="20" r=".16"/><circle cx="1" cy="21" r=".16"/><circle cx="2" cy="21" r=".16"/><circle cx="3" cy="21" r=".16"/><circle cx="4" cy="21" r=".16"/><circle cx="5" cy="21" r=".16"/><circle cx="6" cy="21" r=".16"/><circle cx="7" cy="21" r=".16"/><circle cx="8" cy="21" r=".16"/><circle cx="9" cy="21" r=".16"/><circle cx="10" cy="21" r=".16"/><circle cx="11" cy="21" r=".16"/><circle cx="12" cy="21" r=".16"/><circle cx="13" cy="21" r=".16"/><circle cx="1" cy="22" r=".16"/><circle cx="2" cy="22" r=".16"/><circle cx="3" cy="22" r=".16"/><circle cx="4" cy="22" r=".16"/><circle cx="5" cy="22" r=".16"/><circle cx="6" cy="22" r=".16"/><circle cx="7" cy="22" r=".16"/><circle cx="8" cy="22" r=".16"/><circle cx="9" cy="22" r=".16"/><circle cx="10" cy="22" r=".16"/><circle cx="11" cy="22" r=".16"/><circle cx="12" cy="22" r=".16"/><circle cx="13" cy="22" r=".16"/><circle cx="1" cy="23" r=".16"/><circle cx="2" cy="23" r=".16"/><circle cx="3" cy="23" r=".16"/><circle cx="4" cy="23" r=".16"/><circle cx="5" cy="23" r=".16"/><circle cx="6" cy="23" r=".16"/><circle cx="7" cy="23" r=".16"/><circle cx="8" cy="23" r=".16"/><circle cx="9" cy="23" r=".16"/><circle cx="10" cy="23" r=".16"/><circle cx="11" cy="23" r=".16"/><circle cx="12" cy="23" r=".16"/><circle cx="13" cy="23" r=".16"/></g></symbol></defs><path d="M182,711 L182,769 M153,740 L211,740" stroke="#000" stroke-width="11.5"/><use href="#man" x="226.5" y="262.7" width="104.1" height="180.8" /><use href="#man" x="43.5" y="658.0" width="82.5" height="144.0" /><use href="#man" x="232.8" y="1588.7" width="105.8" height="183.0" /><use href="#man" x="1718.0" y="166.0" width="73.0" height="126.0" /><use href="#man" x="1172.0" y="694.0" width="73.0" height="125.0" /><use href="#man" x="1177.0" y="1026.0" width="72.5" height="127.0" /><use href="#man" x="1199.0" y="1754.0" width="73.0" height="128.0" /><use href="#girl" x="32.3" y="1304.0" width="68.5" height="117.0" /><use href="#girl" x="110.0" y="1304.0" width="68.5" height="117.0" /><use href="#girl" x="187.7" y="1304.0" width="68.5" height="117.0" /><use href="#girl" x="265.4" y="1304.0" width="68.5" height="117.0" /><use href="#girl" x="59.4" y="1331.0" width="68.5" height="117.0" /><use href="#girl" x="136.9" y="1331.0" width="68.5" height="117.0" /><use href="#girl" x="214.4" y="1331.0" width="68.5" height="117.0" /><use href="#girl" x="291.9" y="1331.0" width="68.5" height="117.0" /><use href="#girl" x="2420.0" y="240.0" width="110.0" height="188.0" /><use href="#girl" x="249.0" y="654.0" width="91.7" height="153.0" /><use href="#girl" x="1937.0" y="163.0" width="83.0" height="136.0" /><use href="#girl" x="1831.0" y="1176.0" width="68.0" height="118.0" /><use href="#girl" x="2010.0" y="1751.0" width="69.0" height="118.0" /><use href="#girl" x="2449.0" y="1567.0" width="109.6" height="188.0" /><use href="#pix" x="1362.6" y="689.0" width="74.4" height="125.7" /><use href="#pix" x="1367.8" y="1022.0" width="74.2" height="126.0" /><use href="#pix" x="1637.6" y="1179.6" width="67.1" height="115.1" /><use href="#pix" x="1389.0" y="1750.0" width="76.0" height="126.7" /><use href="#pix" x="1818.0" y="1755.6" width="67.0" height="116.4" /><use href="#darr" x="1803.7" y="195.0" width="96.3" height="71.5" filter="url(#ds)"/><use href="#darr" x="1253.5" y="713.5" width="97.2" height="71.5" filter="url(#ds)"/><use href="#darr" x="1258.6" y="1046.7" width="96.9" height="72.3" filter="url(#ds)"/><use href="#darr" x="1716.6" y="1200.0" width="96.9" height="71.6" filter="url(#ds)"/><use href="#darr" x="1280.5" y="1775.5" width="97.3" height="71.5" filter="url(#ds)"/><use href="#darr" x="1897.0" y="1775.5" width="97.0" height="71.5" filter="url(#ds)"/><use href="#brain" x="1634.0" y="531.0" width="153.0" height="176.5" /><use href="#brain" x="1972.0" y="531.0" width="153.6" height="177.0" /><use href="#brain" x="1972.0" y="1424.5" width="153.0" height="177.5" /><use href="#brain" x="1347.0" y="1425.0" width="154.0" height="178.0" /></svg>
</body></html>
